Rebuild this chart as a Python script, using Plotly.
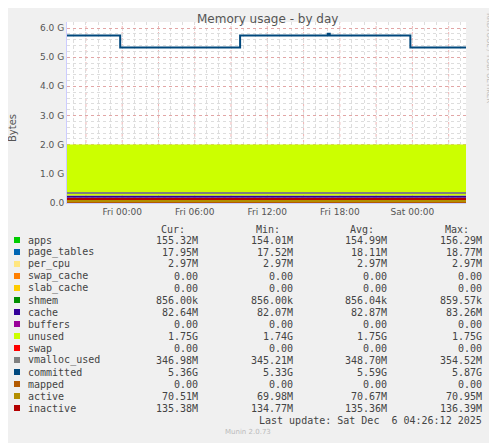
import plotly.graph_objects as go

# ---- data ----
t_range = ["2025-12-04 19:26", "2025-12-06 04:26"]
stack_names = ["apps", "page_tables", "per_cpu", "swap_cache", "slab_cache", "shmem", "cache", "buffers", "unused"]
stack_vals = [155.32e6, 17.95e6, 2.97e6, 0, 0, 0.856e6, 82.64e6, 0, 1.75e9]
stack_colors = ["#00CC00", "#0066B3", "#FFE680", "#FF8000", "#FFCC00", "#008F00", "#330099", "#990099", "#CCFF00"]

committed_t = ["2025-12-04 19:26", "2025-12-04 23:50", "2025-12-05 09:45", "2025-12-05 17:00",
               "2025-12-05 17:10", "2025-12-05 23:50", "2025-12-06 04:26"]
committed_v = [5.74e9, 5.33e9, 5.74e9, 5.80e9, 5.74e9, 5.33e9, 5.33e9]

line_names = ["swap", "vmalloc_used", "mapped", "active", "inactive"]
line_vals = [0, 346.98e6, 0, 70.51e6, 135.38e6]
line_colors = ["#FF0000", "#808080", "#B35A00", "#B38F00", "#B30000"]

legend_names = ["apps", "page_tables", "per_cpu", "swap_cache", "slab_cache", "shmem", "cache", "buffers",
                "unused", "swap", "vmalloc_used", "committed", "mapped", "active", "inactive"]
legend_colors = ["#00CC00", "#0066B3", "#FFE680", "#FF8000", "#FFCC00", "#008F00", "#330099", "#990099",
                 "#CCFF00", "#FF0000", "#808080", "#00487D", "#B35A00", "#B38F00", "#B30000"]
cur = ["155.32M", "17.95M", "2.97M", "0.00", "0.00", "856.00k", "82.64M", "0.00", "1.75G", "0.00", "346.98M", "5.36G", "0.00", "70.51M", "135.38M"]
mn = ["154.01M", "17.52M", "2.97M", "0.00", "0.00", "856.00k", "82.07M", "0.00", "1.74G", "0.00", "345.21M", "5.33G", "0.00", "69.98M", "134.77M"]
avg = ["154.99M", "18.11M", "2.97M", "0.00", "0.00", "856.04k", "82.87M", "0.00", "1.75G", "0.00", "348.70M", "5.59G", "0.00", "70.67M", "135.36M"]
mx = ["156.29M", "18.77M", "2.97M", "0.00", "0.00", "859.57k", "83.26M", "0.00", "1.75G", "0.00", "354.52M", "5.87G", "0.00", "70.95M", "136.39M"]

tick_vals = ["2025-12-05 00:00", "2025-12-05 06:00", "2025-12-05 12:00", "2025-12-05 18:00", "2025-12-06 00:00"]
tick_text = ["Fri 00:00", "Fri 06:00", "Fri 12:00", "Fri 18:00", "Sat 00:00"]
y_ticks = [0, 1e9, 2e9, 3e9, 4e9, 5e9, 6e9]
y_text = ["0.0", "1.0 G", "2.0 G", "3.0 G", "4.0 G", "5.0 G", "6.0 G"]

# ---- figure ----
OFF = 8  # page body margin
W, H = 497 - OFF, 443 - OFF
L, R, T, B = 67, 466, 22, 203  # in page pixels
def px(x): return (x - L) / (R - L)
def py(y): return (B - y) / (B - T)

fig = go.Figure()
for n, v, c in zip(stack_names, stack_vals, stack_colors):
    fig.add_trace(go.Scatter(x=t_range, y=[v, v], name=n, stackgroup="s", mode="none",
                             fillcolor=c, line=dict(width=0)))
for n, v, c in zip(line_names, line_vals, line_colors):
    fig.add_trace(go.Scatter(x=t_range, y=[v, v], name=n, mode="lines", line=dict(color=c, width=2)))
fig.add_trace(go.Scatter(x=committed_t, y=committed_v, name="committed", mode="lines",
                         line=dict(color="#00487D", width=2, shape="hv")))

fig.update_layout(
    width=W, height=H, margin=dict(l=L - OFF, r=497 - R, t=T - OFF, b=443 - B),
    paper_bgcolor="#F0F0F0", plot_bgcolor="#FFFFFF", showlegend=False,
    font=dict(family="DejaVu Sans", size=9, color="#555555"),
)
fig.update_xaxes(range=t_range, tickvals=tick_vals, ticktext=tick_text, showgrid=False,
                 tickmode="array", showline=True, linecolor="#CCCCFF", ticks="", fixedrange=True,
                 minor=dict(dtick=3600000, tick0="2025-12-05", showgrid=True, gridcolor="#DDDDDD", griddash="dot"))
fig.update_yaxes(range=[0, 6e9 * 181 / 175], tickvals=y_ticks, ticktext=y_text, showgrid=True,
                 gridcolor="rgba(230,130,130,0.6)", griddash="dot", showline=True, linecolor="#CCCCFF",
                 zeroline=False, ticks="",
                 minor=dict(dtick=2e8, showgrid=True, gridcolor="#DDDDDD", griddash="dot"))

for h in ["2025-12-04 21:00", "2025-12-05 00:00", "2025-12-05 03:00", "2025-12-05 06:00", "2025-12-05 09:00",
          "2025-12-05 12:00", "2025-12-05 15:00", "2025-12-05 18:00", "2025-12-05 21:00", "2025-12-06 00:00",
          "2025-12-06 03:00"]:
    fig.add_shape(type="line", x0=h, x1=h, y0=0, y1=1, yref="paper", layer="below",
                  line=dict(color="rgba(230,130,130,0.6)", width=1, dash="dot"))

ann = []
def A(text, x, y, anchor="left", size=10, color="#444444", fam="DejaVu Sans Mono", angle=0):
    ann.append(dict(text=text, x=px(x), y=py(y), xref="paper", yref="paper", showarrow=False,
                    xanchor=anchor, yanchor="middle", textangle=angle,
                    font=dict(size=size, color=color, family=fam)))
A("Memory usage - by day", 267, 19, "center", 12, "#555555", "DejaVu Sans")
A("Bytes", 12, 128, "center", 10, "#555555", "DejaVu Sans", -90)
A("RRDTOOL / TOBI OETIKER", 489, 58, "center", 7, "#BBBBBB", "DejaVu Sans", 90)
A("Munin 2.0.73", 248, 432, "center", 7, "#BBBBBB", "DejaVu Sans")
for h, x in zip(["Cur:", "Min:", "Avg:", "Max:"], [187, 282, 376, 471]):
    A(h, x, 229, "right")
for i, n in enumerate(legend_names):
    y = 240 + i * 12
    fig.add_shape(type="rect", xref="paper", yref="paper", x0=px(14), x1=px(20), y0=py(y - 3), y1=py(y + 3),
                  fillcolor=legend_colors[i], line=dict(width=0))
    A(n, 26, y)
    for col, x in zip([cur, mn, avg, mx], [200, 295, 389, 484]):
        A(col[i], x, y, "right")
A("Last update: Sat Dec  6 04:26:12 2025", 484, 420, "right")
fig.update_layout(annotations=ann)
fig.write_html("out.html")
